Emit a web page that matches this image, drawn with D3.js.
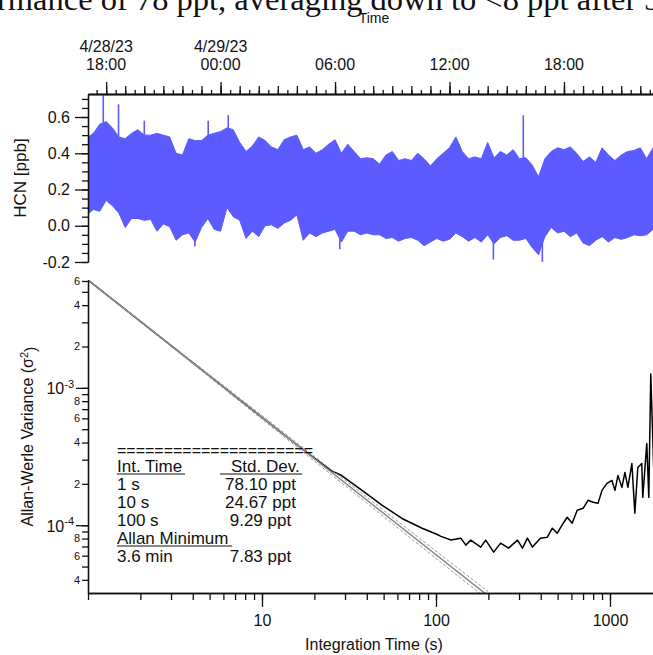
<!DOCTYPE html>
<html><head><meta charset="utf-8">
<script src="https://d3js.org/d3.v7.min.js"></script>
<style>
  body { margin: 0; background: #fff; }
  text { font-family: "Liberation Sans", Arial, sans-serif; fill: #111; }
  .axis path, .axis line { stroke: #111; stroke-width: 1.3px; }
</style>
</head>
<body>
<svg id="chart" width="653" height="655"></svg>
<script>

// ---- data ----
// HCN time series: envelope (max / min) in 20 minute bins from 4/28/23 17:00
const hcnStart = new Date(2023, 3, 28, 17, 0);
const hcnStepMin = 20;
const hcnUpper = [0.485,0.51,0.56,0.575,0.54,0.49,0.48,0.51,0.53,0.50,
  0.50,0.51,0.50,0.49,0.40,0.39,0.48,0.47,0.47,0.50,
  0.51,0.52,0.54,0.53,0.46,0.41,0.44,0.49,0.47,0.435,
  0.42,0.475,0.49,0.50,0.42,0.435,0.40,0.42,0.45,0.475,
  0.40,0.45,0.41,0.37,0.375,0.37,0.34,0.39,0.41,0.36,
  0.37,0.36,0.40,0.37,0.33,0.37,0.40,0.43,0.49,0.41,
  0.37,0.38,0.37,0.46,0.375,0.41,0.39,0.42,0.37,0.375,
  0.335,0.27,0.37,0.41,0.43,0.42,0.435,0.40,0.355,0.38,
  0.35,0.43,0.39,0.36,0.39,0.41,0.415,0.43,0.37,0.43];
const hcnLower = [0.06,0.09,0.08,0.14,0.11,0.07,-0.01,0.04,0.04,0.03,
  0.035,-0.03,0.01,-0.005,-0.08,-0.05,-0.04,-0.09,-0.01,0.04,
  -0.02,-0.03,0.10,0.05,0.03,-0.07,-0.03,-0.06,0.0,0.005,
  -0.015,0.015,0.03,0.06,-0.08,-0.04,-0.06,-0.04,-0.03,-0.02,
  -0.09,-0.03,-0.03,-0.05,-0.04,-0.05,-0.05,-0.07,-0.065,-0.085,
  -0.07,-0.065,-0.08,-0.11,-0.09,-0.07,-0.085,-0.075,-0.04,-0.06,
  -0.085,-0.065,-0.09,-0.05,-0.10,-0.065,-0.055,-0.08,-0.08,-0.07,
  -0.12,-0.16,-0.06,-0.01,-0.04,-0.03,-0.06,-0.04,-0.095,-0.11,
  -0.08,-0.06,-0.09,-0.065,-0.075,-0.065,-0.05,-0.055,-0.05,-0.02];
// single spikes (hours after 4/28 00:00, ppb)
const spikeHours  = [17.86, 18.65, 20.01, 23.36, 24.41, 39.87, 22.66, 30.26, 38.30, 40.88];
const spikeValues = [0.72, 0.67, 0.58, 0.58, 0.61, 0.61, -0.115, -0.13, -0.187, -0.206];

// Allan-Werle variance (ppb^2) vs integration time (s)
const allanTau = [1, 2, 5, 10, 15, 20, 25, 28.7, 37.4, 48.9, 63.8, 83.2, 101, 106.8, 121.8,
  138.9, 148.4, 158.5, 180.7, 193.1, 214.5, 235.1, 261.2, 294, 314.1, 335.4, 358.2, 398,
  436.4, 466.1, 497.7, 538.6, 567.7, 606.2, 647.6, 700.9, 748.3, 799.1, 853.6, 899.6,
  960.8, 1026, 1068, 1111, 1171, 1218, 1267, 1336, 1389, 1445, 1523, 1543, 1627, 1671, 1715, 1807];
const allanVar = [6.1e-3, 3.05e-3, 1.22e-3, 6.09e-4, 4.07e-4, 3.08e-4, 2.5e-4, 2.3e-4, 1.8e-4,
  1.4e-4, 1.12e-4, 9.5e-5, 8.6e-5, 8.3e-5, 7.8e-5, 8.05e-5, 7.16e-5, 7.79e-5, 6.93e-5, 7.79e-5,
  6.37e-5, 7.41e-5, 6.81e-5, 7.79e-5, 6.81e-5, 8.05e-5, 6.93e-5, 8.05e-5, 8.18e-5, 9.51e-5,
  8.75e-5, 1.034e-4, 1.143e-4, 1.034e-4, 1.285e-4, 1.328e-4, 1.518e-4, 1.468e-4, 1.443e-4,
  1.793e-4, 2.015e-4, 2.119e-4, 1.793e-4, 2.303e-4, 1.886e-4, 2.422e-4, 1.886e-4, 2.813e-4,
  1.222e-4, 2.632e-4, 2.813e-4, 1.595e-4, 3.93e-4, 1.595e-4, 1.263e-3, 1.52e-4];
// white noise fit (slope -1) and its confidence lines, as end points
const fitLine = [[1, 6.1e-3], [200, 3.05e-5]];
const fitUpper = [[1, 6.1e-3], [200, 3.27e-5]];
const fitLower = [[1, 6.1e-3], [200, 2.84e-5]];

// statistics table
const tableHead = ["Int. Time", "Std. Dev."];
const tableRows = [["1 s", "78.10 ppt"], ["10 s", "24.67 ppt"], ["100 s", " 9.29 ppt"]];
const minHead = "Allan Minimum";
const minRow = ["3.6 min", " 7.83 ppt"];

// time axis labels
const dateLabels = [[new Date(2023, 3, 28, 18), "4/28/23"], [new Date(2023, 3, 29, 0), "4/29/23"]];

const captionText = "rmance of 78 ppt, averaging down to <8 ppt after 3";

// ---- layout ----
const svg = d3.select("#chart");
const left = 88, right = 660;
const top1 = 94, bottom1 = 262;
const top2 = 280, bottom2 = 593;

// caption fragment from the page above
svg.append("text").attr("x", -3).attr("y", 10)
  .style("font-family", "'Liberation Serif', 'Times New Roman', serif")
  .style("font-size", "32.5px").text(captionText);

// ---- top panel: HCN time series ----
const x = d3.scaleTime()
  .domain([new Date(2023, 3, 28, 17, 3), new Date(2023, 3, 29, 23, 2)])
  .range([left, right]);
const y = d3.scaleLinear().domain([-0.2, 0.727]).range([bottom1, top1]);

svg.append("clipPath").attr("id", "clip1").append("rect")
  .attr("x", left).attr("y", top1 - 2).attr("width", right - left).attr("height", bottom1 - top1 + 2);

const hcn = hcnUpper.map((u, i) => ({
  t: d3.timeMinute.offset(hcnStart, i * hcnStepMin), hi: u, lo: hcnLower[i]
}));

const band = svg.append("g").attr("clip-path", "url(#clip1)");
band.append("path").datum(hcn)
  .attr("fill", "#5b5bff")
  .attr("stroke", "#5b5bff").attr("stroke-width", 1)
  .attr("d", d3.area().x(d => x(d.t)).y0(d => y(d.lo)).y1(d => y(d.hi)));

band.selectAll("line.spike").data(spikeHours)
  .join("line").attr("class", "spike")
  .attr("stroke", "#5b5bff").attr("stroke-width", 1.6)
  .attr("x1", d => x(d3.timeMinute.offset(new Date(2023, 3, 28), d * 60)))
  .attr("x2", d => x(d3.timeMinute.offset(new Date(2023, 3, 28), d * 60)))
  .attr("y1", y(0.2))
  .attr("y2", (d, i) => y(spikeValues[i]));

// top time axis
const tAxis = svg.append("g").attr("class", "axis").attr("transform", `translate(0,${top1})`);
tAxis.call(d3.axisTop(x).ticks(d3.timeMinute.every(30)).tickSize(4).tickSizeOuter(0).tickFormat(""));
tAxis.append("g").call(d3.axisTop(x).ticks(d3.timeHour.every(1)).tickSize(8).tickSizeOuter(0).tickFormat(""));
tAxis.append("g").call(d3.axisTop(x).ticks(d3.timeHour.every(6)).tickSize(12).tickSizeOuter(0).tickFormat(""));

const majorTimes = d3.timeHour.every(6).range(x.domain()[0], x.domain()[1]);
svg.selectAll("text.tlab").data(majorTimes.filter(d => x(d) < 640))
  .join("text").attr("class", "tlab")
  .attr("x", d => x(d)).attr("y", 70)
  .attr("text-anchor", "middle").style("font-size", "16px")
  .text(d3.timeFormat("%H:%M"));
svg.selectAll("text.dlab").data(dateLabels)
  .join("text").attr("class", "dlab")
  .attr("x", d => x(d[0])).attr("y", 52)
  .attr("text-anchor", "middle").style("font-size", "16px")
  .text(d => d[1]);
svg.append("text").attr("x", (left + right) / 2).attr("y", 23)
  .attr("text-anchor", "middle").style("font-size", "14px").text("Time");

// left axis of top panel
const yAxis = svg.append("g").attr("class", "axis").attr("transform", `translate(${left},0)`);
yAxis.call(d3.axisLeft(y).tickValues(d3.range(-0.2, 0.7001, 0.05)).tickSize(6).tickSizeOuter(0).tickFormat(""));
yAxis.append("g").call(d3.axisLeft(y).tickValues([-0.2, 0, 0.2, 0.4, 0.6]).tickSize(13).tickSizeOuter(0)
  .tickPadding(5).tickFormat(d => d.toFixed(1)));
yAxis.selectAll("text").style("font-size", "16px").attr("fill", "#111");
svg.append("text")
  .attr("transform", `translate(26,${(top1 + bottom1) / 2}) rotate(-90)`)
  .attr("text-anchor", "middle").style("font-size", "17px").text("HCN [ppb]");

// ---- bottom panel: Allan variance ----
const xs = d3.scaleLog().domain([1, 1938]).range([left, right]);
const ys = d3.scaleLog().domain([3.21e-5, 6.1e-3]).range([bottom2, top2]);

svg.append("clipPath").attr("id", "clip2").append("rect")
  .attr("x", left).attr("y", top2).attr("width", right - left).attr("height", bottom2 - top2);
const plot2 = svg.append("g").attr("clip-path", "url(#clip2)");

const allan = allanTau.map((t, i) => [t, allanVar[i]]);
const logLine = d3.line().x(d => xs(d[0])).y(d => ys(d[1]));

plot2.append("path").datum(allan)
  .attr("fill", "none").attr("stroke", "#000").attr("stroke-width", 1.5)
  .attr("stroke-linejoin", "round").attr("d", logLine);
[fitUpper, fitLower].forEach(ci => {
  plot2.append("path").datum(ci)
    .attr("fill", "none").attr("stroke", "#999").attr("stroke-width", 1)
    .attr("stroke-dasharray", "3,2").attr("d", logLine);
});
plot2.append("path").datum(fitLine)
  .attr("fill", "none").attr("stroke", "#8a8a8a").attr("stroke-width", 1.5)
  .attr("d", logLine);

// bottom x axis
const xAxis = svg.append("g").attr("class", "axis").attr("transform", `translate(0,${bottom2})`);
xAxis.call(d3.axisBottom(xs).tickValues(xs.ticks()).tickSize(7).tickSizeOuter(0).tickFormat(""));
xAxis.append("g").call(d3.axisBottom(xs).tickValues([10, 100, 1000]).tickSize(14).tickSizeOuter(0)
  .tickPadding(8).tickFormat(d3.format("d")));
xAxis.selectAll("text").style("font-size", "16px").attr("fill", "#111");
svg.append("text").attr("x", (left + right) / 2).attr("y", 650)
  .attr("text-anchor", "middle").style("font-size", "16px").text("Integration Time (s)");

// left log axis
const lAxis = svg.append("g").attr("class", "axis").attr("transform", `translate(${left},0)`);
const yTicks = ys.ticks();
const mant = v => Math.round(v / Math.pow(10, Math.floor(Math.log10(v) + 1e-9)));
lAxis.call(d3.axisLeft(ys).tickValues(yTicks).tickSize(6).tickSizeOuter(0).tickFormat(""));
lAxis.append("g").call(d3.axisLeft(ys).tickValues(yTicks.filter(v => mant(v) === 1))
  .tickSize(12).tickSizeOuter(0).tickFormat(""));
svg.selectAll("text.ymin").data(yTicks.filter(v => [2, 4, 6, 8].includes(mant(v))))
  .join("text").attr("class", "ymin")
  .attr("x", left - 8).attr("y", d => ys(d)).attr("dy", "0.35em")
  .attr("text-anchor", "end").style("font-size", "11px").text(d => mant(d));
const ymaj = svg.selectAll("text.ymaj").data(yTicks.filter(v => mant(v) === 1))
  .join("text").attr("class", "ymaj")
  .attr("x", left - 14).attr("y", d => ys(d)).attr("dy", "0.4em")
  .attr("text-anchor", "end").style("font-size", "16px");
ymaj.append("tspan").text("10");
ymaj.append("tspan").attr("dy", "-0.6em").style("font-size", "11px")
  .text(d => String(Math.round(Math.log10(d))));

const yl = svg.append("text")
  .attr("transform", `translate(33,${(top2 + bottom2) / 2}) rotate(-90)`)
  .attr("text-anchor", "middle").style("font-size", "16px");
yl.append("tspan").text("Allan-Werle Variance (σ");
yl.append("tspan").attr("dy", "-0.5em").style("font-size", "11px").text("2");
yl.append("tspan").attr("dy", "0.5em").text(")");

// statistics table
const tab = svg.append("g").style("font-size", "17px");
const rowY = 472, rowH = 18;
tab.append("text").attr("x", 117).attr("y", 456).attr("textLength", 196)
  .attr("lengthAdjust", "spacingAndGlyphs").text("=".repeat(21));
function under(txt, x0, yb, x1) {
  tab.append("text").attr("x", x0).attr("y", yb).text(txt);
  tab.append("line").attr("x1", x0).attr("x2", x1)
    .attr("y1", yb + 2).attr("y2", yb + 2).attr("stroke", "#111").attr("stroke-width", 1);
}
under(tableHead[0], 117, rowY, 185);
tab.append("text").attr("x", 231).attr("y", rowY).text(tableHead[1]);
tab.append("line").attr("x1", 220).attr("x2", 302).attr("y1", rowY + 2).attr("y2", rowY + 2)
  .attr("stroke", "#111").attr("stroke-width", 1);
tableRows.forEach((r, i) => {
  tab.append("text").attr("x", 117).attr("y", rowY + rowH * (i + 1)).text(r[0]);
  tab.append("text").attr("x", 225).attr("y", rowY + rowH * (i + 1))
    .attr("xml:space", "preserve").text(r[1]);
});
under(minHead, 117, rowY + rowH * 4, 232);
tab.append("text").attr("x", 117).attr("y", rowY + rowH * 5).text(minRow[0]);
tab.append("text").attr("x", 225).attr("y", rowY + rowH * 5).attr("xml:space", "preserve").text(minRow[1]);

</script>
</body>
</html>
